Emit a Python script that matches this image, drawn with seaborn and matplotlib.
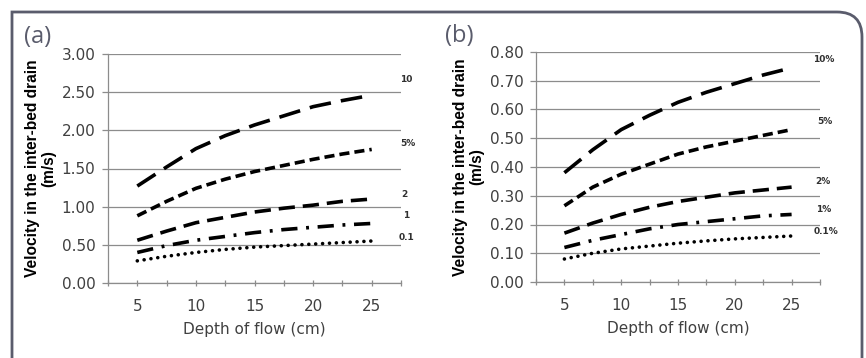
import numpy as np
import pandas as pd
import seaborn as sns
import matplotlib.pyplot as plt
from matplotlib.path import Path
from matplotlib.patches import PathPatch
from matplotlib.transforms import IdentityTransform

#Depth of flow (cm) and the velocities
depth = [5, 7.5, 10, 12.5, 15, 17.5, 20, 22.5, 25]

#Panel (a)
a_10 = [1.27, 1.52, 1.76, 1.93, 2.07, 2.19, 2.31, 2.39, 2.46]
a_5 = [0.88, 1.07, 1.24, 1.36, 1.46, 1.54, 1.62, 1.69, 1.75]
a_2 = [0.56, 0.68, 0.79, 0.86, 0.93, 0.98, 1.02, 1.07, 1.10]
a_1 = [0.40, 0.49, 0.56, 0.61, 0.66, 0.70, 0.73, 0.76, 0.78]
a_01 = [0.29, 0.35, 0.40, 0.44, 0.47, 0.49, 0.51, 0.53, 0.55]
a_labels = ['10', '5%', '2', '1', '0.1']

#Panel (b)
b_10 = [0.38, 0.46, 0.53, 0.58, 0.625, 0.66, 0.69, 0.72, 0.745]
b_5 = [0.265, 0.33, 0.375, 0.41, 0.445, 0.47, 0.49, 0.51, 0.53]
b_2 = [0.17, 0.205, 0.235, 0.26, 0.28, 0.295, 0.31, 0.32, 0.33]
b_1 = [0.12, 0.145, 0.165, 0.185, 0.20, 0.21, 0.22, 0.23, 0.235]
b_01 = [0.08, 0.10, 0.115, 0.125, 0.135, 0.143, 0.15, 0.155, 0.16]
b_labels = ['10%', '5%', '2%', '1%', '0.1%']

#line style for each slope, same order as the labels
styles = [(0, (6, 2.8)), (0, (2.8, 1.4)), (0, (4.5, 2.2)),
          (0, (4.5, 2.4, 0.8, 2.4)), (0, (0.01, 1.9))]
caps = ['butt', 'butt', 'butt', 'butt', 'round']

sns.set_theme(style='white')
plt.rcParams['font.family'] = ['DejaVu Sans']

W, H = 866, 358
fig = plt.figure(figsize=(W / 100, H / 100), dpi=100)

#grey frame: square top-left corner, rounded top-right, open at the bottom
r = 25
left, top, right = 12, 12, 862
verts = [(left, -5), (left, H - top), (right - r, H - top),
         (right, H - top), (right, H - top - r), (right, -5)]
codes = [Path.MOVETO, Path.LINETO, Path.LINETO, Path.CURVE3, Path.CURVE3, Path.LINETO]
fig.patches.append(PathPatch(Path(verts, codes), transform=IdentityTransform(),
                             fill=False, edgecolor='#5a5c6c', lw=2.0))

grey = '#404040'


def draw_panel(rect, series, labels, ymax, ystep, label_pos, tag, tag_pos):
    ax = fig.add_axes(rect)
    for vals, sty, cap in zip(series, styles, caps):
        sns.lineplot(x=depth, y=vals, ax=ax, color='black', lw=2.6,
                     linestyle=sty, dash_capstyle=cap)
    ax.set_xlim(2.5, 27.5)
    ax.set_ylim(0, ymax)
    ticks = np.arange(0, ymax + ystep / 2, ystep)
    ax.set_yticks(ticks)
    ax.set_yticklabels(['%.2f' % v for v in ticks])
    ax.set_xticks([5, 10, 15, 20, 25])
    ax.set_xticks(np.arange(2.5, 27.6, 2.5), minor=True)
    ax.yaxis.grid(True, color='#8c8c8c', lw=0.9)
    ax.set_axisbelow(True)
    for s in ['top', 'right']:
        ax.spines[s].set_visible(False)
    for s in ['left', 'bottom']:
        ax.spines[s].set_color('#8c8c8c')
        ax.spines[s].set_linewidth(0.9)
    ax.tick_params(axis='y', which='major', left=True, length=4, width=0.9,
                   color='#8c8c8c', labelsize=11, labelcolor=grey, pad=5)
    ax.tick_params(axis='x', which='both', bottom=True, length=5, width=0.9,
                   color='#8c8c8c', direction='inout', labelsize=11,
                   labelcolor=grey, pad=9)
    ax.set_xlabel('Depth of flow (cm)', fontsize=11, color=grey, labelpad=6)
    ax.set_ylabel('Velocity in the inter-bed drain\n(m/s)', fontsize=11.2,
                  fontweight='bold', family='Liberation Sans', color='black',
                  labelpad=4, linespacing=1.1)
    for lab, (lx, ly) in zip(labels, label_pos):
        fig.text(lx / W, 1 - ly / H, lab, fontsize=6.5, fontweight='bold',
                 color='#303030', ha='left', va='center')
    fig.text(tag_pos[0] / W, 1 - tag_pos[1] / H, tag, fontsize=17,
             color='#5a5c6c', ha='left', va='center', family='Open Sans')
    return ax


def px_rect(l, r, t, b):
    return [l / W, 1 - b / H, (r - l) / W, (b - t) / H]


draw_panel(px_rect(108, 401, 54, 283), [a_10, a_5, a_2, a_1, a_01], a_labels,
           3.0, 0.5, [(400, 80), (400, 143), (401, 195), (403, 216), (399, 238)],
           '(a)', (24, 37))
draw_panel(px_rect(536, 820, 52, 282), [b_10, b_5, b_2, b_1, b_01], b_labels,
           0.8, 0.1, [(813, 59), (817, 122), (815, 182), (816, 209), (814, 232)],
           '(b)', (445, 36))

plt.savefig('out.png', dpi=100)
